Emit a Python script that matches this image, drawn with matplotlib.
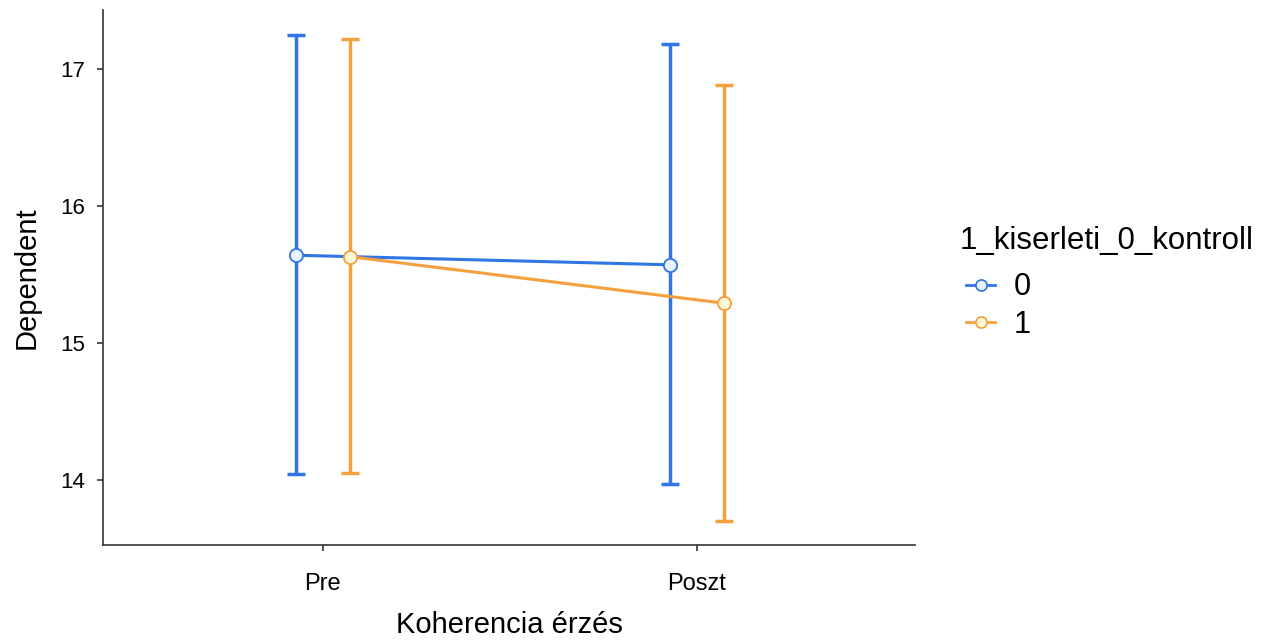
import numpy as np
import matplotlib.pyplot as plt
from matplotlib.lines import Line2D

plt.rcParams['font.family'] = ['Liberation Sans', 'DejaVu Sans']

# adatok
categories = ["Pre", "Poszt"]
groups = ["0", "1"]
means = {"0": [15.64, 15.57], "1": [15.63, 15.29]}
upper = {"0": [17.25, 17.18], "1": [17.22, 16.88]}
lower = {"0": [14.04, 13.97], "1": [14.05, 13.70]}

colors = {"0": "#2F75E3", "1": "#F4A03E"}
fills = {"0": "#EAF1FF", "1": "#FFF8D6"}
offsets = {"0": -0.072, "1": 0.072}

fig = plt.figure(figsize=(12.72, 6.43), dpi=100)
ax = fig.add_axes([103 / 1272, 1 - 545 / 643, (915 - 103) / 1272, (545 - 10) / 643])

x = np.arange(1, len(categories) + 1)
handles = []
for g in groups:
    xs = x + offsets[g]
    m = np.array(means[g])
    lo = m - np.array(lower[g])
    hi = np.array(upper[g]) - m
    ax.errorbar(xs, m, yerr=[lo, hi], fmt="none", ecolor=colors[g],
                elinewidth=2.5, capsize=6.5, capthick=2.5, zorder=2)
    ax.plot(xs, m, color=colors[g], lw=2.2, zorder=3)
    ax.plot(xs, m, "o", ms=9.5, mfc=fills[g], mec=colors[g], mew=1.3, zorder=4)
    handles.append(Line2D([0], [0], color=colors[g], lw=2, marker="o", ms=8,
                          mfc=fills[g], mec=colors[g], mew=1.2))

ax.set_xlim(0.412, 2.583)
ax.set_ylim(13.525, 17.43)
ax.set_xticks(x)
ax.set_xticklabels(categories)
ax.set_yticks([14, 15, 16, 17])
ax.tick_params(length=4, width=1.2, color="#333333")
ax.tick_params(axis="y", labelsize=16, pad=9)
ax.tick_params(axis="x", labelsize=17, pad=16)
for s in ["top", "right"]:
    ax.spines[s].set_visible(False)
for s in ["left", "bottom"]:
    ax.spines[s].set_linewidth(1.2)
    ax.spines[s].set_color("#333333")

ax.set_xlabel("Koherencia érzés", fontsize=21, labelpad=12)
ax.set_ylabel("Dependent", fontsize=21, labelpad=14)

# jelmagyarázat: cím külön szövegként
fig.text(960 / 1272, 1 - 241 / 643, "1_kiserleti_0_kontroll", fontsize=22.5,
         ha="left", va="center")
leg = fig.legend(handles, groups, loc="upper left",
                 bbox_to_anchor=(945 / 1272, 1 - 251 / 643), frameon=False,
                 fontsize=22, handlelength=0.95,
                 handletextpad=0.6, labelspacing=0.25, borderpad=0.2)

fig.savefig("out.png", dpi=100)
